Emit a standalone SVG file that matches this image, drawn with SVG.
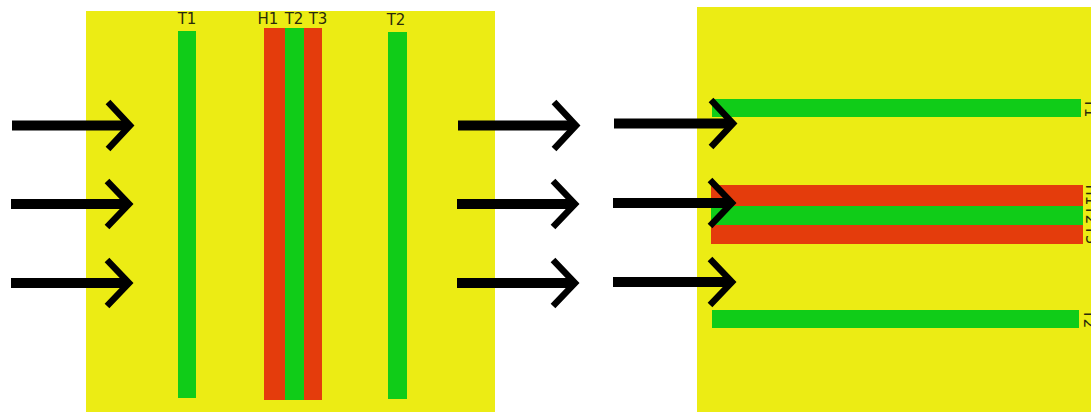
<svg xmlns="http://www.w3.org/2000/svg" width="1091" height="412" viewBox="0 0 1091 412">
<defs>
<style>
.bg{fill:#ecec14}
.g{fill:#10cc18}
.r{fill:#e43c0c}
.lbl{font-family:"DejaVu Sans",sans-serif;font-size:15px;fill:#2a2a0a;text-anchor:middle}
.shaft{stroke:#000;stroke-width:10;fill:none}
.head{stroke:#000;stroke-width:6.5;fill:none}
</style>
</defs>
<rect width="1091" height="412" fill="#fff"/>
<g id="left-panel">
<rect class="bg" x="86" y="11" width="409" height="401"/>
<g id="left-T1"><rect class="g" x="178" y="31" width="18" height="367"/><text class="lbl" x="187" y="24">T1</text></g>
<g id="left-H1"><rect class="r" x="264" y="28" width="21" height="372"/><text class="lbl" x="268" y="24">H1</text></g>
<g id="left-T2a"><rect class="g" x="285" y="28" width="19" height="372"/><text class="lbl" x="294" y="24">T2</text></g>
<g id="left-T3"><rect class="r" x="304" y="28" width="18" height="372"/><text class="lbl" x="318" y="24">T3</text></g>
<g id="left-T2b"><rect class="g" x="388" y="32" width="19" height="367"/><text class="lbl" x="396" y="25">T2</text></g>
</g>
<g id="right-panel">
<rect class="bg" x="697" y="7" width="394" height="405"/>
<g id="right-T1"><rect class="g" x="712" y="99" width="369" height="18"/><text class="lbl" transform="translate(1085,108) rotate(90)">T1</text></g>
<g id="right-H1"><rect class="r" x="711" y="185" width="372" height="21"/><text class="lbl" transform="translate(1086,195) rotate(90)">H1</text></g>
<g id="right-T2a"><rect class="g" x="711" y="206" width="372" height="19"/><text class="lbl" transform="translate(1086,215) rotate(90)">T2</text></g>
<g id="right-T3"><rect class="r" x="711" y="225" width="372" height="19"/><text class="lbl" transform="translate(1086,235) rotate(90)">T3</text></g>
<g id="right-T2b"><rect class="g" x="712" y="310" width="367" height="18"/><text class="lbl" transform="translate(1084,319) rotate(90)">T2</text></g>
</g>
<g id="connectors">
<g id="arrows-left">
<line class="shaft" x1="12" y1="125.5" x2="127" y2="125.5"/><polyline class="head" points="108,102 130,125.5 108,149"/>
<line class="shaft" x1="11" y1="204" x2="126" y2="204"/><polyline class="head" points="107,181 129,204 107,227"/>
<line class="shaft" x1="11" y1="283" x2="126" y2="283"/><polyline class="head" points="107,260 129,283 107,306"/>
</g>
<g id="arrows-mid">
<line class="shaft" x1="458" y1="125.5" x2="573" y2="125.5"/><polyline class="head" points="554,102 576,125.5 554,149"/>
<line class="shaft" x1="457" y1="204" x2="572" y2="204"/><polyline class="head" points="553,181 575,204 553,227"/>
<line class="shaft" x1="457" y1="283" x2="572" y2="283"/><polyline class="head" points="553,260 575,283 553,306"/>
</g>
<g id="arrows-right">
<line class="shaft" x1="614" y1="123.5" x2="730" y2="123.5"/><polyline class="head" points="711,100 733,123.5 711,147"/>
<line class="shaft" x1="613" y1="203" x2="729" y2="203"/><polyline class="head" points="710,180 732,203 710,226"/>
<line class="shaft" x1="613" y1="282" x2="729" y2="282"/><polyline class="head" points="710,259 732,282 710,305"/>
</g>
</g>
</svg>
